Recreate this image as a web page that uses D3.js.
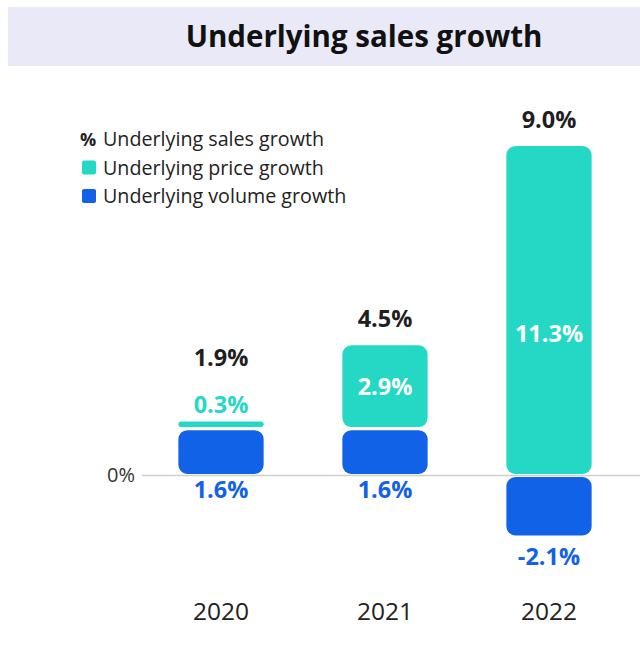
<!DOCTYPE html>
<html><head><meta charset="utf-8">
<script src="https://cdn.jsdelivr.net/npm/d3@7"></script>
<style>html,body{margin:0;padding:0;background:#fff;}svg{display:block;}</style>
</head><body>
<svg id="c" width="640" height="654"></svg>
<script>
const years = ["2020", "2021", "2022"];
const priceGrowth = [0.3, 2.9, 11.3];
const volumeGrowth = [1.6, 1.6, -2.1];
const salesGrowth = [1.9, 4.5, 9.0];
const yTicks = [0];
const legendItems = ["Underlying sales growth", "Underlying price growth", "Underlying volume growth"];
const titleText = "Underlying sales growth";

const TEAL = "#25d8c6", BLUE = "#1262e8", DARK = "#1f1f1f";
const FONT = "'Open Sans', 'Noto Sans', sans-serif";
const svg = d3.select("#c");

// title band
svg.append("rect").attr("x", 8).attr("y", 7).attr("width", 632).attr("height", 59).attr("fill", "#e9e9f7");
svg.append("text").attr("x", 364).attr("y", 47).attr("text-anchor", "middle")
  .attr("font-family", "'Open Sans', sans-serif").attr("font-weight", 700).attr("font-size", 29.5)
  .attr("fill", "#111").text(titleText);

const x = d3.scalePoint().domain(years).range([139, 631]).padding(0.5);
const bw = x.step() * 0.52;
const y = d3.scaleLinear().domain([-3, 12]).range([475.5 + 3 * 29.3, 475.5 - 12 * 29.3]);

// zero line + tick label via axis
const axis = d3.axisLeft(y).tickValues(yTicks).tickFormat(d => d + "%").tickSize(0).tickPadding(7);
const ag = svg.append("g").attr("transform", "translate(142,0)").call(axis);
ag.select(".domain").remove();
ag.selectAll("text").attr("font-family", FONT).attr("font-size", 20).attr("fill", "#333").attr("dy", "0.32em");
svg.append("line").attr("x1", 142).attr("x2", 640).attr("y1", y(0)).attr("y2", y(0))
  .attr("stroke", "#cfcfcf").attr("stroke-width", 1.5);

function rr(x0, y0, w, h, r) {
  r = Math.min(r, h / 2, w / 2);
  const p = d3.path();
  p.moveTo(x0 + r, y0); p.lineTo(x0 + w - r, y0); p.arcTo(x0 + w, y0, x0 + w, y0 + r, r);
  p.lineTo(x0 + w, y0 + h - r); p.arcTo(x0 + w, y0 + h, x0 + w - r, y0 + h, r);
  p.lineTo(x0 + r, y0 + h); p.arcTo(x0, y0 + h, x0, y0 + h - r, r);
  p.lineTo(x0, y0 + r); p.arcTo(x0, y0, x0 + r, y0, r); p.closePath();
  return p.toString();
}

const data = years.map((yr, i) => {
  const v = volumeGrowth[i], pr = priceGrowth[i];
  const vb = [Math.min(0, v), Math.max(0, v)];
  const base = Math.max(0, v);
  return { yr, v, pr, total: salesGrowth[i], vb, pb: [base, base + pr] };
});
const gap = 1.6;
const g = svg.append("g");
data.forEach(d => {
  const cx = x(d.yr), x0 = cx - bw / 2;
  const vt = y(d.vb[1]) + gap, vbt = y(d.vb[0]) - gap;
  g.append("path").attr("d", rr(x0, vt, bw, vbt - vt, 9)).attr("fill", BLUE);
  const pt = y(d.pb[1]) + gap, pbt = y(d.pb[0]) - gap;
  g.append("path").attr("d", rr(x0, pt, bw, pbt - pt, 9)).attr("fill", TEAL);

  const lab = (val) => val.toFixed(1) + "%";
  const bold = (sel) => sel.attr("font-family", FONT).attr("font-weight", 700).attr("font-size", 23.5).attr("text-anchor", "middle");
  const ph = pbt - pt;
  if (ph < 30) {
    bold(g.append("text")).attr("x", cx).attr("y", pt - 8).attr("fill", TEAL).text(lab(d.pr));
    bold(g.append("text")).attr("x", cx).attr("y", pt - 55).attr("fill", DARK).text(lab(d.total));
  } else {
    const mid = Math.min((d.pb[0] + d.pb[1]) / 2, 4.85);
    bold(g.append("text")).attr("x", cx).attr("y", y(mid)).attr("dy", "0.36em").attr("fill", "#fff").text(lab(d.pr));
    bold(g.append("text")).attr("x", cx).attr("y", pt - 18).attr("fill", DARK).text(lab(d.total));
  }
  const vy = d.v >= 0 ? y(0) + 22 : vbt + 30;
  bold(g.append("text")).attr("x", cx).attr("y", vy).attr("fill", BLUE).text(lab(d.v));
});

// year labels
svg.append("g").selectAll("text").data(years).join("text")
  .attr("x", d => x(d)).attr("y", 620).attr("text-anchor", "middle")
  .attr("font-family", FONT).attr("font-size", 24.5).attr("fill", "#222").text(d => d);

// legend
const lg = svg.append("g").attr("font-family", FONT).attr("font-size", 19.7).attr("fill", "#222");
legendItems.forEach((t, i) => {
  const yy = 146 + i * 28.5;
  lg.append("text").attr("x", 103).attr("y", yy).text(t);
  if (i === 0) {
    lg.append("text").attr("x", 80).attr("y", yy).attr("font-weight", 700).attr("font-size", 18).text("%");
  } else {
    lg.append("rect").attr("x", 82).attr("y", yy - 14).attr("width", 14).attr("height", 14).attr("rx", 2)
      .attr("fill", i === 1 ? TEAL : BLUE);
  }
});
</script>
</body></html>
